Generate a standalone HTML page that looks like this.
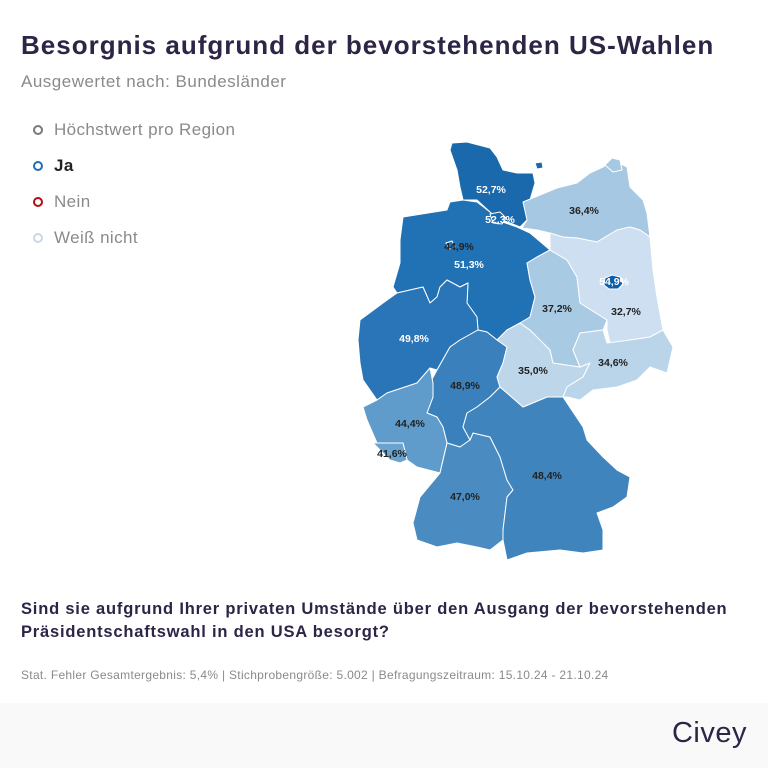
<!DOCTYPE html>
<html><head><meta charset="utf-8"><style>
body{margin:0;width:768px;height:768px;background:#fff;position:relative;overflow:hidden;font-family:"Liberation Sans",sans-serif}
.t{position:absolute;left:21px;top:30px;font-size:26px;font-weight:bold;color:#2d2446;letter-spacing:1px;white-space:nowrap}
.s{position:absolute;left:21px;top:72px;font-size:17px;color:#8a8a8a;letter-spacing:0.5px}
.lg{position:absolute;left:33px;font-size:17px;color:#8a8a8a;letter-spacing:0.4px}
.lg i{position:absolute;left:0;top:5px;width:6px;height:6px;border:2.5px solid;border-radius:50%}
.lg span{position:absolute;left:21px;top:0;white-space:nowrap}
.q{position:absolute;left:21px;top:598px;font-size:16.5px;font-weight:bold;color:#2d2446;line-height:23px;letter-spacing:0.8px;white-space:nowrap}
.f{position:absolute;left:21px;top:668px;font-size:12px;color:#8a8a8a;letter-spacing:0.3px;white-space:nowrap}
.ft{position:absolute;left:0;top:703px;width:768px;height:65px;background:#f9f9f9}
.logo{position:absolute;right:21px;top:717px;font-size:29px;color:#2d2446;letter-spacing:0.5px}
svg{position:absolute;left:0;top:0}
svg text{font-family:"Liberation Sans",sans-serif;font-size:10.5px;font-weight:bold;text-anchor:middle}
</style></head><body>
<div class="t">Besorgnis aufgrund der bevorstehenden US-Wahlen</div>
<div class="s">Ausgewertet nach: Bundesländer</div>
<div class="lg" style="top:120px"><i style="border-color:#7a7a7a"></i><span>Höchstwert pro Region</span></div>
<div class="lg" style="top:156px;color:#222;font-weight:bold"><i style="border-color:#1f6fb4"></i><span>Ja</span></div>
<div class="lg" style="top:192px"><i style="border-color:#b30d0d"></i><span>Nein</span></div>
<div class="lg" style="top:228px"><i style="border-color:#c9d8e8"></i><span>Weiß nicht</span></div>
<svg width="768" height="768" stroke="#fff" stroke-width="1" stroke-linejoin="round">
<polygon fill="#1a69ad" points="452,143 467,142 490,148 497,157 503,170 517,173 533,173 535,183 530,200 527,220 520,227 510,223 497,218 490,212 477,200 463,200 460,187 457,170 450,150"/>
<polygon fill="#a7c8e2" points="523,202 540,195 557,188 577,183 590,173 603,167 613,160 627,167 630,187 643,200 647,213 650,237 640,230 630,227 617,230 597,242 577,238 560,237 550,233 537,230 522,228 527,220"/>
<polygon fill="#2171b5" points="403,217 447,210 450,202 463,200 477,202 490,212 497,220 517,227 530,233 550,250 537,257 527,263 530,280 535,297 530,317 520,323 507,330 497,340 487,332 478,330 477,317 467,303 468,283 460,287 447,280 440,287 437,297 430,303 423,287 410,290 397,293 393,287 400,263 400,240"/>
<polygon fill="#2a75b8" points="360,320 383,303 397,293 410,290 423,287 430,303 437,297 440,287 447,280 460,287 468,283 467,303 477,317 478,330 460,340 450,347 437,370 430,368 417,383 387,393 377,400 363,380 360,363 358,340"/>
<polygon fill="#3a80bc" points="437,370 450,347 460,340 478,330 487,332 497,340 507,347 503,363 497,377 500,387 490,397 477,407 467,413 463,427 470,440 460,447 447,443 443,427 437,417 427,413 433,397 430,383"/>
<polygon fill="#5f9bcb" points="363,407 377,400 387,393 417,383 430,368 433,383 433,397 427,413 437,417 443,427 447,443 440,473 417,467 407,460 403,443 377,443 367,420"/>
<polygon fill="#6aa3cf" points="373,443 403,443 407,460 400,463 390,460 383,453"/>
<polygon fill="#4a8cc2" points="447,443 460,447 470,440 473,433 490,437 500,457 507,480 513,490 507,497 503,530 503,540 490,550 477,547 457,543 437,547 417,540 413,523 420,497 440,473"/>
<polygon fill="#3f84bd" points="467,413 477,407 490,397 500,387 507,393 523,407 547,397 563,397 583,427 587,440 603,457 617,470 630,477 627,497 613,507 597,513 603,530 603,550 583,553 560,550 527,553 507,560 503,540 503,530 507,497 513,490 507,480 500,457 490,437 473,433 470,440 463,427"/>
<polygon fill="#bdd6ea" points="497,340 507,330 520,323 530,330 550,350 553,363 580,367 590,363 583,377 567,387 563,397 547,397 523,407 507,393 500,387 497,377 503,363 507,347"/>
<polygon fill="#a9cae3" points="527,263 537,257 550,250 567,260 577,277 580,303 607,320 603,330 580,333 573,350 580,367 553,363 550,350 530,330 520,323 530,317 535,297 530,280"/>
<polygon fill="#cddff0" points="550,233 563,237 577,238 597,242 617,230 630,227 640,230 650,237 653,270 657,297 663,330 650,337 630,340 610,343 607,330 607,320 580,303 577,277 567,260 550,250"/>
<polygon fill="#bad4e9" points="580,333 603,330 607,343 630,340 650,337 663,330 673,347 667,373 650,367 637,380 617,387 593,390 580,400 567,397 563,397 567,387 583,377 590,363 580,367 573,350"/>
<polygon fill="#0d5ea8" points="605,278 612,275 620,277 623,284 618,289 609,289 604,285"/>
<polygon fill="#1a69ad" points="490,214 500,212 506,218 502,224 493,223"/>
<polygon fill="#2171b5" points="446,243 452,241 455,247 449,249"/>
<polygon fill="#1a69ad" points="535,163 542,162 543,168 537,169"/>
<polygon fill="#a7c8e2" points="605,165 612,158 620,160 622,170 613,172"/>
<g stroke="none">
<text x="491" y="193" fill="#fff">52,7%</text>
<text x="500" y="223" fill="#fff">52,3%</text>
<text x="459" y="250" fill="#222">44,9%</text>
<text x="469" y="268" fill="#fff">51,3%</text>
<text x="414" y="342" fill="#fff">49,8%</text>
<text x="465" y="389" fill="#222">48,9%</text>
<text x="410" y="427" fill="#222">44,4%</text>
<text x="392" y="457" fill="#222">41,6%</text>
<text x="465" y="500" fill="#222">47,0%</text>
<text x="547" y="479" fill="#222">48,4%</text>
<text x="533" y="374" fill="#222">35,0%</text>
<text x="557" y="312" fill="#222">37,2%</text>
<text x="626" y="315" fill="#222">32,7%</text>
<text x="613" y="366" fill="#222">34,6%</text>
<text x="584" y="214" fill="#222">36,4%</text>
<text x="614" y="285" fill="#fff">54,9%</text>
</g>
</svg>
<div class="q">Sind sie aufgrund Ihrer privaten Umstände über den Ausgang der bevorstehenden<br>Präsidentschaftswahl in den USA besorgt?</div>
<div class="f">Stat. Fehler Gesamtergebnis: 5,4% | Stichprobengröße: 5.002 | Befragungszeitraum: 15.10.24 - 21.10.24</div>
<div class="ft"></div>
<div class="logo">Civey</div>
</body></html>
